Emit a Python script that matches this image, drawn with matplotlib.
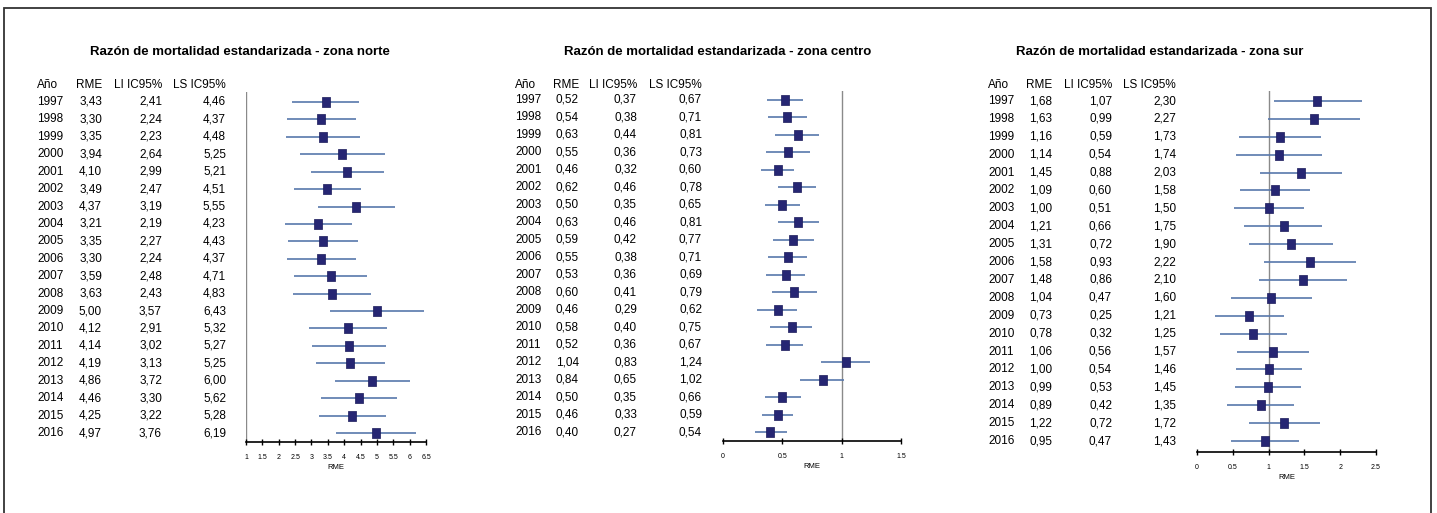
import numpy as np
import matplotlib.pyplot as plt
import matplotlib.transforms as mtransforms
from matplotlib.patches import Rectangle

plt.rcParams['font.family'] = ['Liberation Sans Narrow', 'DejaVu Sans Condensed',
                               'Liberation Sans', 'DejaVu Sans']

years = list(range(1997, 2017))

# zona norte
rme_norte = [3.43, 3.30, 3.35, 3.94, 4.10, 3.49, 4.37, 3.21, 3.35, 3.30,
             3.59, 3.63, 5.00, 4.12, 4.14, 4.19, 4.86, 4.46, 4.25, 4.97]
li_norte = [2.41, 2.24, 2.23, 2.64, 2.99, 2.47, 3.19, 2.19, 2.27, 2.24,
            2.48, 2.43, 3.57, 2.91, 3.02, 3.13, 3.72, 3.30, 3.22, 3.76]
ls_norte = [4.46, 4.37, 4.48, 5.25, 5.21, 4.51, 5.55, 4.23, 4.43, 4.37,
            4.71, 4.83, 6.43, 5.32, 5.27, 5.25, 6.00, 5.62, 5.28, 6.19]

# zona centro
rme_centro = [0.52, 0.54, 0.63, 0.55, 0.46, 0.62, 0.50, 0.63, 0.59, 0.55,
              0.53, 0.60, 0.46, 0.58, 0.52, 1.04, 0.84, 0.50, 0.46, 0.40]
li_centro = [0.37, 0.38, 0.44, 0.36, 0.32, 0.46, 0.35, 0.46, 0.42, 0.38,
             0.36, 0.41, 0.29, 0.40, 0.36, 0.83, 0.65, 0.35, 0.33, 0.27]
ls_centro = [0.67, 0.71, 0.81, 0.73, 0.60, 0.78, 0.65, 0.81, 0.77, 0.71,
             0.69, 0.79, 0.62, 0.75, 0.67, 1.24, 1.02, 0.66, 0.59, 0.54]

# zona sur
rme_sur = [1.68, 1.63, 1.16, 1.14, 1.45, 1.09, 1.00, 1.21, 1.31, 1.58,
           1.48, 1.04, 0.73, 0.78, 1.06, 1.00, 0.99, 0.89, 1.22, 0.95]
li_sur = [1.07, 0.99, 0.59, 0.54, 0.88, 0.60, 0.51, 0.66, 0.72, 0.93,
          0.86, 0.47, 0.25, 0.32, 0.56, 0.54, 0.53, 0.42, 0.72, 0.47]
ls_sur = [2.30, 2.27, 1.73, 1.74, 2.03, 1.58, 1.50, 1.75, 1.90, 2.22,
          2.10, 1.60, 1.21, 1.25, 1.57, 1.46, 1.45, 1.35, 1.72, 1.43]

headers = ['Año', 'RME', 'LI IC95%', 'LS IC95%']

W, H = 1437, 513
fig = plt.figure(figsize=(W / 100, H / 100), dpi=100)

# border around the whole figure (bottom edge cut off in the original)
fig.patches.append(Rectangle((4 / W, -0.05), 1427 / W, 1.05 - 8 / H,
                             transform=fig.transFigure, fill=False,
                             edgecolor='#333333', lw=1.3))

panels = [
    dict(name='norte', rme=rme_norte, li=li_norte, ls=ls_norte,
         xlim=(1, 6.5), ticks=np.arange(1, 6.51, 0.5), ax_x=(246, 426),
         first=102, last=433, axis_y=442, top=92, title_x=240,
         cols=(37, 102, 162, 226)),
    dict(name='centro', rme=rme_centro, li=li_centro, ls=ls_centro,
         xlim=(0, 1.5), ticks=np.arange(0, 1.51, 0.5), ax_x=(723, 901),
         first=100, last=432, axis_y=441, top=91, title_x=718,
         cols=(515, 579, 637, 702)),
    dict(name='sur', rme=rme_sur, li=li_sur, ls=ls_sur,
         xlim=(0, 2.5), ticks=np.arange(0, 2.51, 0.5), ax_x=(1197, 1376),
         first=101, last=441, axis_y=452, top=91, title_x=1160,
         cols=(988, 1052, 1112, 1176)),
]

# slightly tall rectangle marker like the original
box = [(-0.8, -1), (0.8, -1), (0.8, 1), (-0.8, 1), (-0.8, -1)]

for p in panels:
    sp = (p['last'] - p['first']) / (len(years) - 1)
    r_top = (p['top'] - p['first']) / sp
    r_bot = (p['axis_y'] - p['first']) / sp
    x0, x1 = p['ax_x']
    ax = fig.add_axes([x0 / W, 1 - p['axis_y'] / H, (x1 - x0) / W,
                       (p['axis_y'] - p['top']) / H])
    ax.set_xlim(*p['xlim'])
    ax.set_ylim(r_bot, r_top)
    rows = np.arange(len(years))

    ax.axvline(1, color='#8a8a8a', lw=1.0, zorder=1)
    ax.hlines(rows, p['li'], p['ls'], color='#5878ac', lw=1.2, zorder=2)
    ax.plot(p['rme'], rows, ls='none', marker=box, ms=7,
            color='#262673', mec='#1a1a5a', mew=0.5, zorder=3)

    for s in ['top', 'right', 'left']:
        ax.spines[s].set_visible(False)
    ax.spines['bottom'].set_linewidth(1.2)
    ax.set_yticks([])
    ax.set_xticks(p['ticks'])
    ax.set_xticklabels(['{:g}'.format(t) for t in p['ticks']], fontsize=5)
    ax.tick_params(axis='x', direction='inout', length=5, width=1, pad=6)
    ax.set_xlabel('RME', fontsize=5.5, labelpad=2)

    # title
    fig.text(p['title_x'] / W, 1 - 52 / H,
             'Razón de mortalidad estandarizada - zona ' + p['name'],
             ha='center', va='center', fontsize=9.5, fontweight='bold')

    # table
    tr = mtransforms.blended_transform_factory(fig.transFigure, ax.transData)
    r_head = (85 - p['first']) / sp
    cx = p['cols']
    for j, h in enumerate(headers):
        ax.text(cx[j] / W, r_head, h, transform=tr, clip_on=False,
                ha='left' if j == 0 else 'right', va='center', fontsize=8.5)
    for i, yr in enumerate(years):
        vals = [str(yr)] + ['{:.2f}'.format(v).replace('.', ',')
                            for v in (p['rme'][i], p['li'][i], p['ls'][i])]
        for j, v in enumerate(vals):
            ax.text(cx[j] / W, i, v, transform=tr, clip_on=False,
                    ha='left' if j == 0 else 'right', va='center', fontsize=8.5)

fig.savefig('out.png', dpi=100)
